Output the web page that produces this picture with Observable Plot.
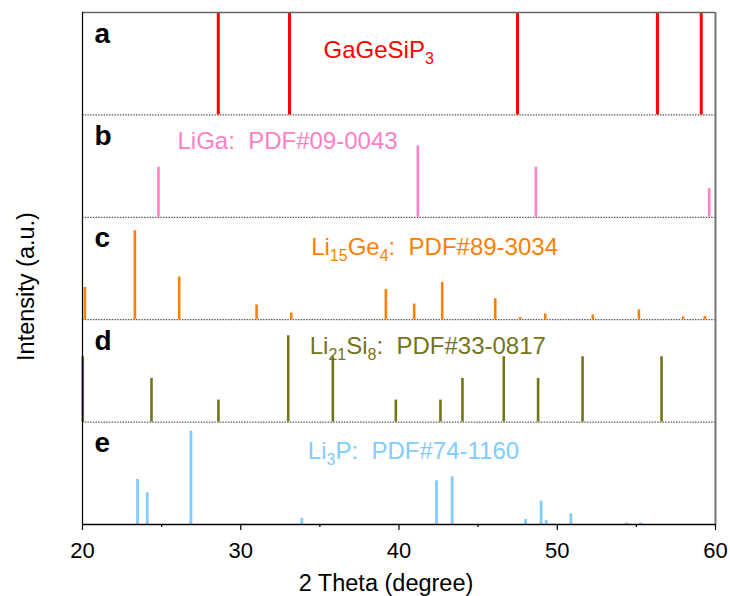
<!DOCTYPE html>
<html>
<head>
<meta charset="utf-8">
<script src="https://cdn.jsdelivr.net/npm/d3@7"></script>
<script src="https://cdn.jsdelivr.net/npm/@observablehq/plot@0.6"></script>
<style>
  body { margin: 0; background: #fff; }
  svg { display: block; }
</style>
</head>
<body>
<div id="chart"></div>
<script>
// Peak positions (2θ, degrees) and relative intensities (% of a panel's height)
const gageTheta = [28.58, 33.08, 47.49, 56.33, 59.1];
const gageInt   = [100, 100, 100, 100, 100];

const ligaTheta = [24.80, 41.19, 48.65, 59.6];
const ligaInt   = [48.8, 69.6, 48.8, 28.0];

const li15ge4Theta = [20.15, 23.31, 26.11, 31.0, 33.19, 39.17, 40.96, 42.73, 46.08, 47.66, 49.24, 52.25, 55.16, 57.96, 59.33];
const li15ge4Int   = [31.5, 86.9, 41.7, 14.4, 6.5, 29.6, 15.3, 36.4, 20.5, 2.0, 5.6, 4.6, 9.5, 2.6, 3.2];

const li21si8Theta = [20.02, 24.36, 28.59, 33.0, 35.82, 39.8, 42.62, 44.01, 46.62, 48.79, 51.6, 56.59];
const li21si8Int   = [63.8, 42.7, 21.5, 84.3, 63.8, 21.5, 21.5, 42.7, 63.8, 42.7, 63.8, 63.8];

const li3pTheta = [23.48, 24.09, 26.85, 33.86, 42.37, 43.36, 48.0, 48.98, 49.3, 50.86, 54.38, 55.26];
const li3pInt   = [44.0, 31.0, 91.1, 5.9, 42.7, 46.6, 4.9, 22.8, 3.9, 10.4, 1.3, 1.3];

const panelKeys   = ["a", "b", "c", "d", "e"];
const panelLabels = ["GaGeSiP_{3}", "LiGa:  PDF#09-0043", "Li_{15}Ge_{4}:  PDF#89-3034", "Li_{21}Si_{8}:  PDF#33-0817", "Li_{3}P:  PDF#74-1160"];

const majorTicks = [20, 30, 40, 50, 60];
const minorTicks = [25, 35, 45, 55];

// Styling and label placement for each panel
const panelStyle = [
  {color: "#ff0000", width: 3.0, labelTheta: 35.23, labelDrop: 45},
  {color: "#ff80c4", width: 2.6, labelTheta: 26.0,  labelDrop: 34},
  {color: "#ff8000", width: 2.6, labelTheta: 34.45, labelDrop: 38},
  {color: "#74741a", width: 2.6, labelTheta: 34.36, labelDrop: 34},
  {color: "#80ccff", width: 2.8, labelTheta: 34.24, labelDrop: 37}
];

const series = [
  [gageTheta, gageInt],
  [ligaTheta, ligaInt],
  [li15ge4Theta, li15ge4Int],
  [li21si8Theta, li21si8Int],
  [li3pTheta, li3pInt]
];

const PANEL = 100;            // each panel spans 100 intensity units
const nPanels = panelKeys.length;

const panels = panelKeys.map((key, i) => {
  const base = (nPanels - 1 - i) * PANEL;
  const [theta, inten] = series[i];
  return {
    key,
    label: panelLabels[i],
    base,
    top: base + PANEL,
    ...panelStyle[i],
    peaks: theta.map((t, k) => ({theta: t, y1: base, y2: base + inten[k]}))
  };
});

const separators = panels.slice(1).map(p => p.top);

const font = "'Liberation Sans', Arial, Helvetica, sans-serif";

const marks = [
  // dotted panel separators
  Plot.ruleY(separators, {stroke: "#333", strokeWidth: 1, strokeDasharray: "1.5,1.2"}),
  // stick patterns
  ...panels.map(p => Plot.ruleX(p.peaks, {x: "theta", y1: "y1", y2: "y2", stroke: p.color, strokeWidth: p.width})),
  // frame
  Plot.ruleY([nPanels * PANEL], {stroke: "#666", strokeWidth: 1.5}),
  Plot.ruleX([60], {stroke: "#777", strokeWidth: 2}),
  Plot.ruleX([20], {stroke: "#000", strokeWidth: 1.2}),
  Plot.ruleY([0], {stroke: "#000", strokeWidth: 1.5}),
  // x axis
  Plot.axisX({ticks: majorTicks, tickSize: 6, tickPadding: 12, fontSize: 22, label: null, strokeWidth: 1.2}),
  Plot.axisX({ticks: minorTicks, tickSize: 3, tickFormat: () => "", label: null, strokeWidth: 1.2}),
  // panel letters
  ...panels.map(p => Plot.text([p], {
    x: 20, y: "top", text: "key", dx: 12, dy: 30,
    fontSize: 28, fontWeight: "bold", textAnchor: "start", lineAnchor: "bottom", fill: "#000"
  })),
  // phase labels
  ...panels.map(p => Plot.text([p], {
    x: "labelTheta", y: "top", text: "label", dy: p.labelDrop,
    fontSize: 24, textAnchor: "start", lineAnchor: "bottom", fill: p.color
  })),
  // axis titles
  Plot.text(["Intensity (a.u.)"], {frameAnchor: "left", rotate: -90, dx: -56, dy: 18, fontSize: 23.5, textAnchor: "middle", lineAnchor: "middle", fill: "#000"}),
  Plot.text(["2 Theta (degree)"], {frameAnchor: "bottom", dx: -13, dy: 66, fontSize: 23.5, textAnchor: "middle", lineAnchor: "bottom", fill: "#000"})
];

const chart = Plot.plot({
  width: 730,
  height: 596,
  marginLeft: 82,
  marginRight: 15,
  marginTop: 12,
  marginBottom: 72,
  style: {fontFamily: font, color: "#000", background: "#fff"},
  x: {domain: [20, 60], axis: null},
  y: {domain: [0, nPanels * PANEL], axis: null},
  marks
});

// Render _{...} as subscripts and keep double spaces
d3.select(chart).selectAll("text").each(function () {
  const el = d3.select(this);
  const s = this.textContent;
  el.attr("xml:space", "preserve").style("white-space", "pre");
  if (!s.includes("_{")) return;
  const parts = s.split(/_\{([^}]*)\}/);
  el.text(null);
  let shifted = false;
  parts.forEach((part, k) => {
    if (part === "") { return; }
    const sub = k % 2 === 1;
    const t = el.append("tspan").text(part);
    if (sub) {
      t.attr("font-size", 16).attr("dy", shifted ? 0 : 6);
      shifted = true;
    } else if (shifted) {
      t.attr("dy", -6);
      shifted = false;
    }
  });
});

document.getElementById("chart").appendChild(chart);
</script>
</body>
</html>
